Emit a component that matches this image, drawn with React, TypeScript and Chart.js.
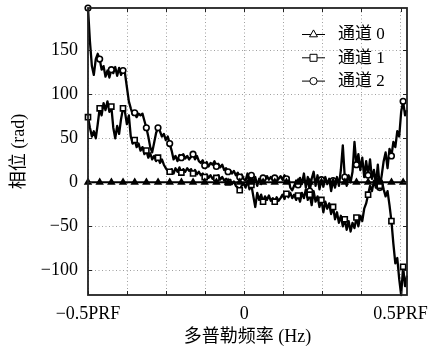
import React, { useEffect, useRef } from "react";
import { Chart, registerables } from "chart.js";

Chart.register(...registerables);

// ---------------- data ----------------
const SERIES_LABELS = ["通道 0", "通道 1", "通道 2"];
const X_TITLE = "多普勒频率 (Hz)";
const Y_TITLE = "相位 (rad)";

// frequency axis (normalised to PRF): first bin and bin spacing
const FREQ_START = -0.5;
const FREQ_STEP = 0.006224;

const CH0 = [
  0, 0, 0, 0, 0, 0, 0, 0, 0, 0, 0, 0, 0, 0, 0, 0, 0, 0, 0, 0, 0, 0, 0, 0, 0, 0, 0, 0, 0, 0,
  0, 0, 0, 0, 0, 0, 0, 0, 0, 0, 0, 0, 0, 0, 0, 0, 0, 0, 0, 0, 0, 0, 0, 0, 0, 0, 0, 0, 0, 0,
  0, 0, 0, 0, 0, 0, 0, 0, 0, 0, 0, 0, 0, 0, 0, 0, 0, 0, 0, 0, 0, 0, 0, 0, 0, 0, 0, 0, 0, 0,
  0, 0, 0, 0, 0, 0, 0, 0, 0, 0, 0, 0, 0, 0, 0, 0, 0, 0, 0, 0, 0, 0, 0, 0, 0, 0, 0, 0, 0, 0,
  0, 0, 0, 0, 0, 0, 0, 0, 0, 0, 0, 0, 0, 0, 0, 0, 0, 0, 0, 0, 0, 0, 0, 0, 0, 0, 0, 0, 0, 0,
  0, 0, 0, 0, 0, 0, 0, 0, 0, 0, 0, 0, 0, 0, 0,
];

const CH1 = [
  74, 62, 52, 58, 50, 66, 84, 76, 90, 82, 92, 80, 86, 62, 50, 64, 55, 72, 84, 80,
  66, 76, 52, 44, 48, 40, 44, 36, 40, 32, 36, 28, 33, 26, 30, 24, 28, 22, 26, 20,
  16, 13, 12, 15, 10, 16, 12, 17, 11, 15, 12, 16, 13, 15, 10, 14, 9, 12, 8, 10,
  6, 9, 5, 8, 4, 7, 5, 8, 3, 6, 2, 4, 0, 3, -2, 1, -4, -6, -9, -4,
  -1, -6, 2, -8, -3, -16, -28, -12, -20, -14, -22, -16, -20, -15, -21, -18, -22, -17, -21, -18,
  -14, -19, -13, -17, -12, -18, -14, -20, -15, -22, -12, -18, -8, -20, -14, -26, -10, -22, -16, -28,
  -20, -34, -22, -30, -24, -36, -28, -42, -34, -46, -38, -50, -42, -54, -44, -56, -46, -52, -40, -50,
  -38, -44, -30, -24, -14, -4, -10, 2, -6, 4, -4, 2, -8, -16, -10, -26, -44, -70, -92, -86,
  -110, -128, -96, -118, -106,
];

const CH2 = [
  198, 160, 132, 122, 140, 146, 140, 128, 132, 120, 127, 119, 128, 124, 131, 121, 130, 122, 127, 124,
  108, 92, 84, 77, 79, 74, 78, 76, 78, 70, 62, 52, 40, 34, 45, 56, 62, 58, 52, 55,
  48, 52, 44, 36, 26, 30, 24, 31, 28, 32, 27, 30, 26, 29, 32, 26, 30, 24, 22, 25,
  19, 23, 18, 22, 20, 24, 18, 21, 17, 20, 14, 16, 12, 14, 10, 13, 8, 11, 6, 9,
  4, 2, 10, -2, 8, 0, 6, -4, 4, -2, 5, 2, 7, 3, 6, 2, 5, 1, 4, 7,
  3, 8, 4, 6, -6, -9, -4, 2, -3, 5, -2, 10, -6, 6, -10, 4, 12, -4, 8, -8,
  3, -5, 6, -2, 4, -10, 2, -6, 6, -4, 14, 42, 6, -4, 8, 0, 12, 46, 20, 32,
  14, 28, 6, 24, 8, 26, 4, 14, -2, 20, -6, 8, 24, 34, 16, 38, 30, 46, 40, 58,
  52, 80, 92, 76, 82,
];

const X_GRID_VALUES = [-0.5, -0.375, -0.25, -0.125, 0, 0.125, 0.25, 0.375, 0.5];
const X_TICK_VALUES = [-0.5, 0, 0.5];
const X_TICK_LABELS = ["\u22120.5PRF", "0", "0.5PRF"];
const Y_TICK_VALUES = [-100, -50, 0, 50, 100, 150];
const Y_TICK_LABELS = ["\u2212100", "\u221250", "0", "50", "100", "150"];
const Y_MIN = -128;
const Y_MAX = 198;

// ---------------- style ----------------
const FONT = "'Liberation Serif', 'Noto Sans CJK SC', serif";
const MARK_EVERY = 6;
const POINT_STYLES = ["triangle", "rect", "circle"];
const POINT_RADII = [3.3, 3.6, 2.8];
const POINT_FILLS = ["#000", "#fff", "#fff"];
const LINE_WIDTHS = [2, 2.3, 2.3];

const toPoints = (arr: number[]) =>
  arr.map((v, i) => ({ x: FREQ_START + i * FREQ_STEP, y: v }));

const framePlugin = {
  id: "frame",
  afterDatasetsDraw(chart: any) {
    const { ctx, chartArea: a, scales } = chart;
    ctx.save();
    ctx.strokeStyle = "#222";
    ctx.lineWidth = 1;
    const tl = 4;
    X_GRID_VALUES.forEach((v) => {
      const x = Math.round(scales.x.getPixelForValue(v)) + 0.5;
      ctx.beginPath();
      ctx.moveTo(x, a.bottom);
      ctx.lineTo(x, a.bottom - tl);
      ctx.moveTo(x, a.top);
      ctx.lineTo(x, a.top + tl);
      ctx.stroke();
    });
    Y_TICK_VALUES.forEach((v) => {
      const y = Math.round(scales.y.getPixelForValue(v)) + 0.5;
      ctx.beginPath();
      ctx.moveTo(a.left, y);
      ctx.lineTo(a.left + tl, y);
      ctx.moveTo(a.right, y);
      ctx.lineTo(a.right - tl, y);
      ctx.stroke();
    });
    ctx.lineWidth = 1.8;
    ctx.strokeRect(a.left, a.top, a.right - a.left, a.bottom - a.top);
    ctx.restore();
  },
};

function drawMarker(ctx: CanvasRenderingContext2D, style: string, x: number, y: number) {
  ctx.beginPath();
  if (style === "triangle") {
    const r = 4.6;
    ctx.moveTo(x, y - r);
    ctx.lineTo(x + r * 0.866, y + r / 2);
    ctx.lineTo(x - r * 0.866, y + r / 2);
    ctx.closePath();
  } else if (style === "rect") {
    ctx.rect(x - 3.5, y - 3.5, 7, 7);
  } else {
    ctx.arc(x, y, 3.6, 0, Math.PI * 2);
  }
  ctx.fillStyle = "#fff";
  ctx.fill();
  ctx.stroke();
}

const legendPlugin = {
  id: "innerLegend",
  afterDraw(chart: any) {
    const { ctx, chartArea: a } = chart;
    ctx.save();
    ctx.strokeStyle = "#000";
    ctx.lineWidth = 1;
    ctx.fillStyle = "#000";
    ctx.font = `17px ${FONT}`;
    ctx.textBaseline = "middle";
    ctx.textAlign = "left";
    chart.data.datasets.forEach((ds: any, i: number) => {
      const y = a.top + 26 + i * 23.3;
      const x1 = a.right - 105;
      const x2 = a.right - 82;
      ctx.beginPath();
      ctx.moveTo(x1, y + 0.5);
      ctx.lineTo(x2, y + 0.5);
      ctx.stroke();
      drawMarker(ctx, ds.pointStyle, (x1 + x2) / 2, y + 0.5);
      ctx.fillStyle = "#000";
      ctx.fillText(ds.label, a.right - 69, y + 1);
    });
    ctx.restore();
  },
};

export default function App() {
  const ref = useRef<HTMLCanvasElement | null>(null);

  useEffect(() => {
    if (!ref.current) return;
    const series = [CH0, CH1, CH2];
    const chart = new Chart(ref.current, {
      type: "line",
      data: {
        datasets: series.map((s, k) => ({
          label: SERIES_LABELS[k],
          data: toPoints(s),
          borderColor: "#000",
          borderWidth: LINE_WIDTHS[k],
          borderJoinStyle: "round" as any,
          tension: 0,
          fill: false,
          clip: false as any,
          pointStyle: POINT_STYLES[k] as any,
          pointRadius: (c: any) => (c.dataIndex % MARK_EVERY === 0 ? POINT_RADII[k] : 0),
          pointHoverRadius: 0,
          pointBackgroundColor: POINT_FILLS[k],
          pointBorderColor: "#000",
          pointBorderWidth: 1.6,
        })),
      },
      options: {
        animation: false,
        responsive: false,
        maintainAspectRatio: false,
        devicePixelRatio: 1,
        events: [],
        layout: { padding: { top: 8, right: 21, left: 0, bottom: 0 } },
        plugins: { legend: { display: false }, tooltip: { enabled: false } },
        scales: {
          x: {
            type: "linear",
            min: FREQ_START,
            max: FREQ_START + (CH1.length - 1) * FREQ_STEP,
            afterBuildTicks: (s: any) => {
              s.ticks = X_GRID_VALUES.map((v) => ({ value: v }));
            },
            afterFit: (s: any) => {
              s.height = 59;
              s.paddingLeft = 0;
              s.paddingRight = 0;
              s.paddingTop = 0;
              s.paddingBottom = 0;
            },
            grid: { color: "#a0a0a0", lineWidth: 1, drawTicks: false },
            border: { display: false, dash: [1, 2.5] },
            ticks: {
              autoSkip: false,
              maxRotation: 0,
              padding: 8,
              color: "#000",
              font: { family: FONT, size: 18 },
              callback: (v: any) => {
                const k = X_TICK_VALUES.indexOf(Number(v));
                return k >= 0 ? X_TICK_LABELS[k] : "";
              },
            },
            title: {
              display: true,
              text: X_TITLE,
              color: "#000",
              font: { family: FONT, size: 18 },
              padding: { top: 0, bottom: 6 },
            },
          },
          y: {
            type: "linear",
            min: Y_MIN,
            max: Y_MAX,
            afterBuildTicks: (s: any) => {
              s.ticks = Y_TICK_VALUES.map((v) => ({ value: v }));
            },
            afterFit: (s: any) => {
              s.width = 88;
              s.paddingLeft = 0;
              s.paddingRight = 0;
              s.paddingTop = 0;
              s.paddingBottom = 0;
            },
            grid: { color: "#a0a0a0", lineWidth: 1, drawTicks: false },
            border: { display: false, dash: [1, 2.5] },
            ticks: {
              padding: 10,
              color: "#000",
              font: { family: FONT, size: 18 },
              callback: (v: any) => {
                const k = Y_TICK_VALUES.indexOf(Number(v));
                return k >= 0 ? Y_TICK_LABELS[k] : "";
              },
            },
            title: {
              display: true,
              text: Y_TITLE,
              color: "#000",
              font: { family: FONT, size: 18 },
              padding: { top: 8, bottom: 0 },
            },
          },
        },
      },
      plugins: [framePlugin, legendPlugin],
    });
    return () => chart.destroy();
  }, []);

  return (
    <div
      style={{
        position: "fixed",
        left: 0,
        top: 0,
        width: 428,
        height: 354,
        background: "#fff",
      }}
    >
      <canvas ref={ref} width={428} height={354} style={{ width: 428, height: 354 }} />
    </div>
  );
}
